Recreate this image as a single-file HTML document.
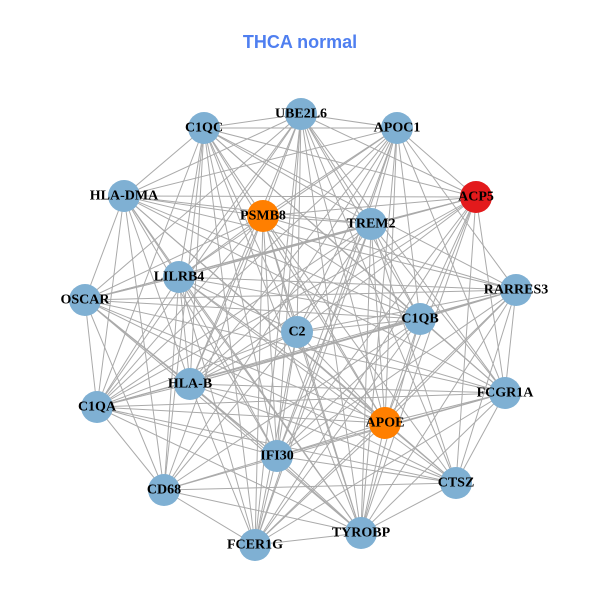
<!DOCTYPE html>
<html><head><meta charset="utf-8"><style>
html,body{margin:0;padding:0;background:#fff;width:600px;height:600px;overflow:hidden}
svg text.l{font-family:"Liberation Serif",serif;font-weight:bold;font-size:14px;fill:#000;text-anchor:middle;dominant-baseline:central}
</style></head><body>
<svg id="s" width="600" height="600" xmlns="http://www.w3.org/2000/svg">
<text x="300" y="48" text-anchor="middle" style="font-family:'Liberation Sans',sans-serif;font-weight:bold;font-size:18px;fill:#4f7ff0">THCA normal</text>
<g id="e" stroke="#aaaaaa" stroke-width="1"></g>
<g id="n"></g>
<g>
<text class="l" x="301" y="114">UBE2L6</text>
<text class="l" x="204" y="128">C1QC</text>
<text class="l" x="397" y="128">APOC1</text>
<text class="l" x="476" y="197">ACP5</text>
<text class="l" x="124" y="196">HLA-DMA</text>
<text class="l" x="263" y="216">PSMB8</text>
<text class="l" x="371" y="224">TREM2</text>
<text class="l" x="179" y="277">LILRB4</text>
<text class="l" x="85" y="300">OSCAR</text>
<text class="l" x="516" y="290">RARRES3</text>
<text class="l" x="420" y="319">C1QB</text>
<text class="l" x="297" y="332">C2</text>
<text class="l" x="190" y="384">HLA-B</text>
<text class="l" x="97" y="407">C1QA</text>
<text class="l" x="505" y="393">FCGR1A</text>
<text class="l" x="385" y="423">APOE</text>
<text class="l" x="277" y="456">IFI30</text>
<text class="l" x="456" y="483">CTSZ</text>
<text class="l" x="164" y="490">CD68</text>
<text class="l" x="361" y="533">TYROBP</text>
<text class="l" x="255" y="545">FCER1G</text>
</g>
</svg>
<script>
var N=[[301,114,0],[204,128,0],[397,128,0],[476,197,2],[124,196,0],[263,216,1],[371,224,0],[179,277,0],[85,300,0],[516,290,0],[420,319,0],[297,332,0],[190,384,0],[97,407,0],[505,393,0],[385,423,1],[277,456,0],[456,483,0],[164,490,0],[361,533,0],[255,545,0]];
var ns="http://www.w3.org/2000/svg",e=document.getElementById('e'),g=document.getElementById('n');
var k=0;
for(var i=0;i<N.length;i++)for(var j=i+1;j<N.length;j++){k++;if(k%9==0)continue;var l=document.createElementNS(ns,'line');l.setAttribute('x1',N[i][0]);l.setAttribute('y1',N[i][1]);l.setAttribute('x2',N[j][0]);l.setAttribute('y2',N[j][1]);e.appendChild(l);}
var C=['#7fb0d3','#ff7f00','#e31a1c'];
N.forEach(function(p){var c=document.createElementNS(ns,'circle');c.setAttribute('cx',p[0]);c.setAttribute('cy',p[1]);c.setAttribute('r',16);c.setAttribute('fill',C[p[2]]);g.appendChild(c);});
</script>
</body></html>
